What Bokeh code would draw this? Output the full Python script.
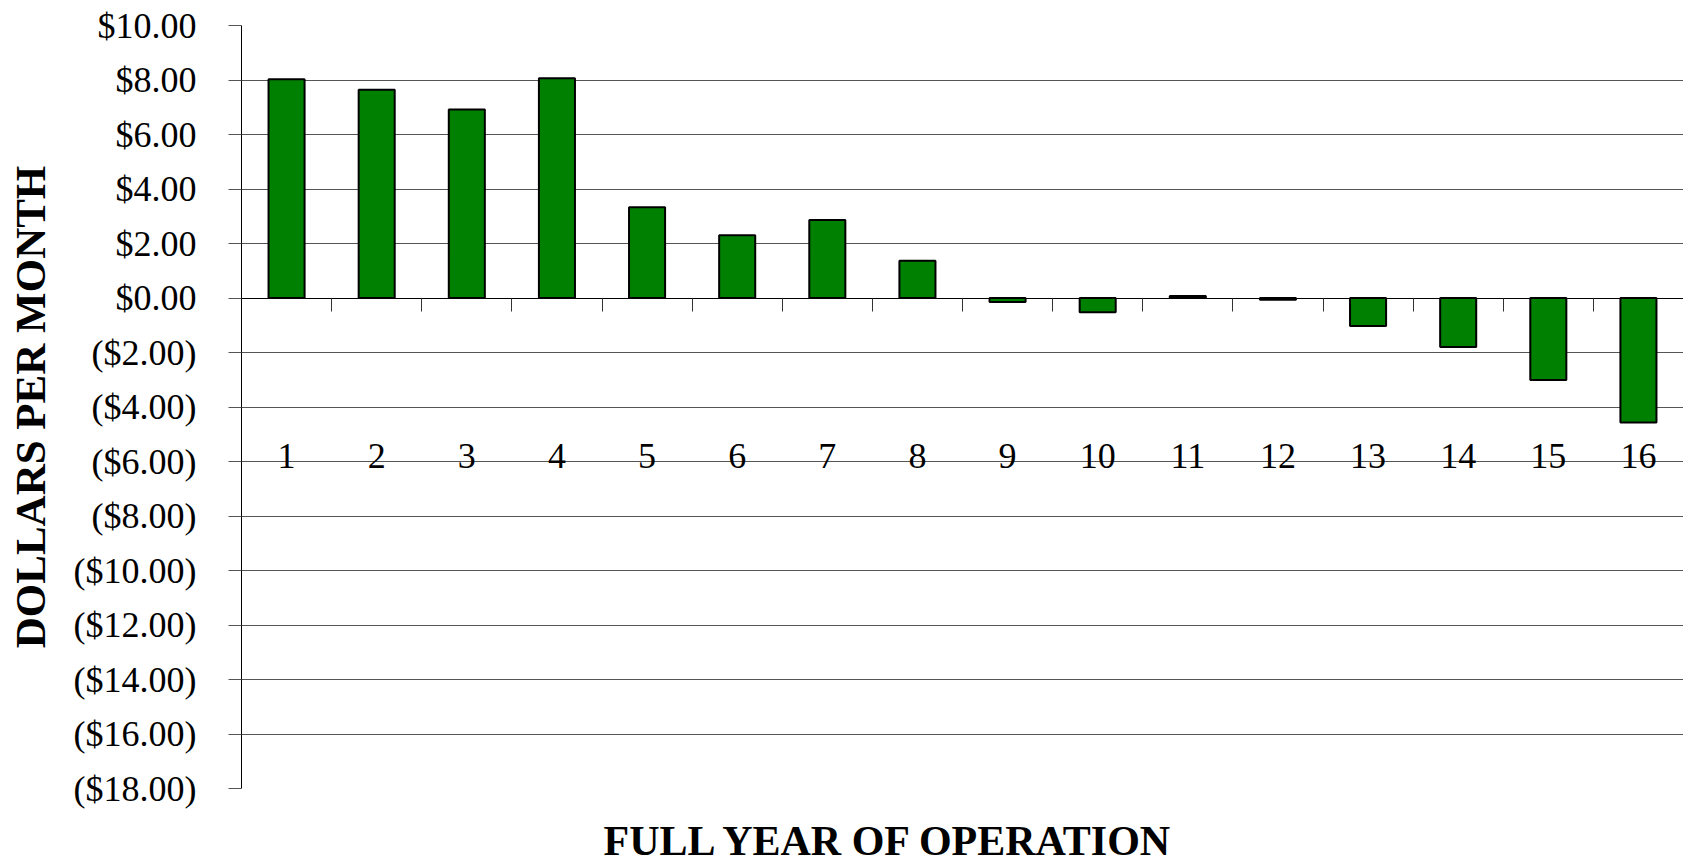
from bokeh.plotting import figure
from bokeh.models import Range1d, FixedTicker, LinearAxis, Title, ColumnDataSource
from bokeh.embed import file_html
from bokeh.resources import INLINE

# ---- data ----
years = [1, 2, 3, 4, 5, 6, 7, 8, 9, 10, 11, 12, 13, 14, 15, 16]
year_labels = ["1", "2", "3", "4", "5", "6", "7", "8", "9", "10", "11", "12", "13", "14", "15", "16"]
values = [8.03, 7.64, 6.92, 8.06, 3.33, 2.30, 2.86, 1.37, -0.15, -0.52, 0.07, -0.06, -1.03, -1.80, -3.01, -4.57]
y_ticks = [-18, -16, -14, -12, -10, -8, -6, -4, -2, 0, 2, 4, 6, 8, 10]
y_tick_labels = ["($18.00)", "($16.00)", "($14.00)", "($12.00)", "($10.00)", "($8.00)", "($6.00)",
                 "($4.00)", "($2.00)", "$0.00", "$2.00", "$4.00", "$6.00", "$8.00", "$10.00"]
x_title = "FULL YEAR OF OPERATION"
y_title = "DOLLARS PER MONTH"

SERIF = "Liberation Serif"

src = ColumnDataSource(dict(x=years, top=values))

p = figure(width=1683, height=864,
           x_range=Range1d(years[0] - 0.5, years[-1] + 0.5),
           y_range=Range1d(y_ticks[0], y_ticks[-1]),
           output_backend="svg", toolbar_location=None,
           x_axis_location=None,
           min_border_left=241, min_border_right=0, min_border_top=25, min_border_bottom=76)
p.outline_line_color = None
p.background_fill_color = "white"
p.border_fill_color = "white"

p.xgrid.visible = False
p.ygrid.ticker = FixedTicker(ticks=y_ticks)
p.ygrid.grid_line_color = "#555555"
p.ygrid.grid_line_width = 1

p.vbar(x="x", top="top", bottom=0, width=0.4, source=src,
       fill_color="#008000", line_color="black", line_width=2)

# y axis
yax = p.yaxis[0]
yax.ticker = FixedTicker(ticks=y_ticks)
yax.major_label_overrides = dict(zip(y_ticks, y_tick_labels))
yax.major_label_text_font = SERIF
yax.major_label_text_font_size = "36px"
yax.major_label_text_color = "black"
yax.major_label_standoff = 32
yax.major_tick_out = 13
yax.major_tick_in = 0
yax.major_tick_line_color = "#555555"
yax.minor_tick_line_color = None
yax.axis_line_color = "black"
yax.axis_label = y_title
yax.axis_label_text_font = SERIF
yax.axis_label_text_font_size = "43px"
yax.axis_label_text_font_style = "bold"
yax.axis_label_text_color = "black"
yax.axis_label_standoff = 17

# category axis along y = 0: labels at category centres, tick marks at category boundaries
boundaries = [y + 0.5 for y in years[:-1]]
xax = LinearAxis(fixed_location=0,
                 ticker=FixedTicker(ticks=years, minor_ticks=boundaries),
                 major_label_overrides=dict(zip(years, year_labels)),
                 axis_line_color="black", axis_line_width=1,
                 major_tick_line_color=None, major_tick_out=0, major_tick_in=0,
                 minor_tick_line_color="#333333", minor_tick_out=13, minor_tick_in=0,
                 major_label_standoff=133,
                 major_label_text_font=SERIF, major_label_text_font_size="36px",
                 major_label_text_color="black")
p.add_layout(xax, "below")

# blank spacer under the frame (an undrawn axis label only reserves room), then the x title
spacer = LinearAxis(ticker=FixedTicker(ticks=[]),
                    axis_line_color=None, major_tick_line_color=None, minor_tick_line_color=None,
                    major_tick_out=0, major_tick_in=0, minor_tick_out=0, minor_tick_in=0,
                    major_label_standoff=0,
                    axis_label=".", axis_label_standoff=20,
                    axis_label_text_font_size="6px", axis_label_text_color=None)
p.add_layout(spacer, "below")

t = Title(text=x_title, align="left", offset=362, standoff=0, vertical_align="bottom",
          text_font=SERIF, text_font_size="42px", text_font_style="bold", text_color="black")
p.add_layout(t, "below")

open("out.html", "w").write(file_html(p, INLINE))
